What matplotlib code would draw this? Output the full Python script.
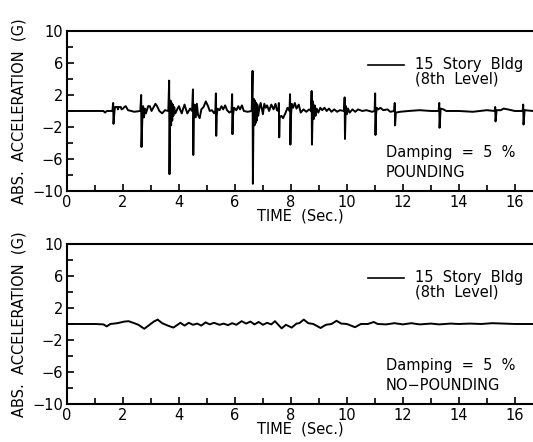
import matplotlib
matplotlib.use("Agg")
import matplotlib.pyplot as plt
from matplotlib.ticker import MultipleLocator, FixedLocator
import numpy as np

plt.rcParams['font.family'] = ['DejaVu Sans']

# ---- data ----
# pounding impacts: time, positive peak, negative peak
spike_t = [1.65, 2.65, 3.65, 4.50, 5.32, 5.90, 6.63, 7.57, 7.97, 8.74, 9.92, 11.01, 11.71, 13.30, 15.30, 16.30]
spike_up = [1.0, 2.0, 3.8, 2.7, 2.2, 2.1, 5.0, 1.0, 2.1, 2.5, 1.7, 2.2, 1.0, 1.0, 0.5, 0.8]
spike_dn = [-1.6, -4.5, -7.9, -5.5, -3.1, -2.9, -9.1, -3.3, -4.2, -4.2, -3.5, -3.0, -1.8, -2.1, -1.3, -1.7]

# pounding response between impacts
pound_t = [0.0, 1.0, 1.30, 1.36, 1.42, 1.62,
           1.70, 1.72, 1.80, 1.82, 1.85, 1.92, 1.95, 2.00, 2.05, 2.10, 2.18, 2.30, 2.40, 2.62,
           2.69, 2.72, 2.75, 2.78, 2.82, 2.90, 2.96, 3.02, 3.10, 3.16, 3.22, 3.30, 3.40, 3.50, 3.62,
           3.68, 3.70, 3.72, 3.74, 3.76, 3.78, 3.80, 3.83, 3.87, 3.95, 4.00, 4.05, 4.10, 4.15, 4.20, 4.25, 4.30, 4.40, 4.47,
           4.53, 4.56, 4.60, 4.64, 4.68, 4.74, 4.80, 4.88, 4.96, 5.04, 5.10, 5.18, 5.26, 5.30,
           5.35, 5.38, 5.45, 5.52, 5.58, 5.65, 5.72, 5.80, 5.88,
           5.93, 5.97, 6.05, 6.12, 6.18, 6.25, 6.32, 6.45, 6.60,
           6.66, 6.68, 6.70, 6.72, 6.74, 6.76, 6.78, 6.80, 6.83, 6.87, 6.92, 6.96, 7.00, 7.05, 7.10, 7.15, 7.22, 7.30, 7.38, 7.45, 7.50, 7.55,
           7.60, 7.66, 7.72, 7.80, 7.88, 7.95,
           8.00, 8.03, 8.08, 8.14, 8.20, 8.28, 8.35, 8.45, 8.55, 8.65, 8.72,
           8.77, 8.79, 8.82, 8.85, 8.88, 8.92, 8.98, 9.05, 9.12, 9.20, 9.28, 9.36, 9.45, 9.55, 9.65, 9.75, 9.90,
           9.95, 9.97, 10.00, 10.04, 10.10, 10.20, 10.30, 10.40, 10.55, 10.70, 10.90, 10.99,
           11.04, 11.07, 11.12, 11.20, 11.30, 11.45, 11.55, 11.69,
           11.75, 11.90, 12.20, 12.60, 13.00, 13.28,
           13.35, 13.45, 13.55, 14.00, 14.50, 15.00, 15.28,
           15.35, 15.50, 15.60, 15.75, 16.00, 16.28,
           16.35, 16.65]
pound_v = [0, 0, 0, -0.2, 0, 0,
           0.1, 0.5, 0.5, 0.2, 0.5, 0.5, 0.2, 0.3, 0.5, 0.6, 0.1, 0, -0.1, 0,
           -1.2, 0.6, -0.8, 0.3, -0.3, 0.6, 0.6, 0, 0.5, 0.9, 0.6, 0, -0.3, 0.1, 0,
           -1.5, 1.3, -1.8, 1.0, -1.2, 0.8, -0.6, 0.5, -0.3, 0.3, 0.6, 0.1, -0.3, 0.3, 0.8, 0.2, -0.3, 0.3, 0,
           -1.0, 0.8, -0.8, 0.9, -0.5, -0.9, 0.2, 0.5, 1.2, 0.6, 0, 0.1, -0.3, 0,
           -0.5, 0.3, 0.1, 0.6, 0.2, 0.7, 0.1, -0.2, 0,
           -0.6, 0.4, 0.1, 0.6, 0.2, 0.7, 0, -0.1, 0,
           -2.0, 1.5, -1.8, 1.3, -1.5, 1.0, -1.2, 0.8, -0.6, 0.3, 1.0, 0.3, -0.4, 0.9, 0.4, 0.7, 0, 0.8, 0.2, 0.9, 0.1, 0,
           -0.8, -0.6, -0.9, -0.3, 0.4, 0,
           -0.8, 0.9, 0.4, 1.0, 0.3, 0.8, -0.2, 0.2, -0.1, 0.2, 0,
           -1.3, 1.2, -1.0, 0.7, -0.6, 0.3, -0.2, 0.4, 0.1, 0.4, 0, 0.3, -0.1, 0.2, -0.1, 0.1, 0,
           -0.8, 0.6, -0.4, 0.3, -0.2, 0.2, -0.1, 0.2, 0, 0.1, -0.1, 0,
           -0.5, 0.4, 0.2, 0.4, 0.1, 0.2, -0.1, 0,
           -0.2, -0.1, 0, 0.1, 0, 0,
           0.3, 0.2, 0, 0, -0.1, 0.1, 0,
           0.1, 0.1, 0.3, 0.2, 0, 0,
           0.1, 0]

# no-pounding response
nopound_t = [0.0, 1.0, 1.30, 1.42, 1.55, 1.80, 2.05, 2.20, 2.40, 2.55, 2.76, 2.95, 3.10, 3.24, 3.40, 3.60,
             3.80, 3.95, 4.05, 4.20, 4.35, 4.50, 4.65, 4.80, 4.95, 5.10, 5.25, 5.45, 5.60, 5.75, 5.90,
             6.05, 6.24, 6.40, 6.55, 6.70, 6.85, 7.00, 7.15, 7.30, 7.43, 7.55, 7.67, 7.82, 8.03, 8.20,
             8.30, 8.46, 8.62, 8.80, 9.06, 9.25, 9.45, 9.63, 9.80, 10.00, 10.29, 10.50, 10.75, 10.96,
             11.10, 11.40, 11.70, 12.0, 12.3, 12.6, 13.0, 13.3, 13.7, 14.0, 14.4, 14.8, 15.2, 15.6, 16.0, 16.65]
nopound_v = [0, 0, -0.05, -0.3, 0, 0.1, 0.3, 0.35, 0.1, -0.1, -0.6, -0.1, 0.3, 0.55, 0.1, -0.2,
             -0.45, -0.1, 0.15, -0.2, 0.15, -0.1, 0.05, -0.2, 0.2, -0.05, 0.15, -0.1, 0.05, -0.15, 0.1,
             -0.1, 0.35, 0.05, 0.3, -0.05, 0.25, -0.1, 0.15, -0.05, 0.35, -0.1, -0.55, -0.1, -0.45, 0.05,
             0.1, 0.55, 0.1, 0, -0.5, -0.1, 0, 0.4, 0.05, 0, -0.4, 0, 0, 0.25,
             0, -0.05, 0.1, -0.05, 0.1, -0.05, 0.05, -0.05, 0.05, 0, 0.05, 0, 0.1, 0.05, 0, 0]

y_ticks = [10, 6, 2, -2, -6, -10]
x_ticks = [0, 2, 4, 6, 8, 10, 12, 14, 16]
legend_label = "15  Story  Bldg\n(8th  Level)"
damping_text = "Damping  =  5  %"
case_labels = ["POUNDING", "NO\u2212POUNDING"]

# assemble pounding trace (impact peaks merged with in-between response)
pts = list(zip(pound_t, pound_v))
for t, u, d in zip(spike_t, spike_up, spike_dn):
    pts.append((t, u))
    pts.append((t + 0.012, d))
pts.sort(key=lambda p: p[0])
trace_t = [p[0] for p in pts]
trace_v = [p[1] for p in pts]

fig = plt.figure(figsize=(5.33, 4.42), dpi=100)
ax1 = fig.add_axes([0.1257, 0.5679, 0.8743, 0.3620])
ax2 = fig.add_axes([0.1257, 0.0860, 0.8743, 0.3620])

FS = 10.5
for ax, (tt, vv), case in [(ax1, (trace_t, trace_v), case_labels[0]),
                            (ax2, (nopound_t, nopound_v), case_labels[1])]:
    ax.plot(tt, vv, color='black', lw=1.4)
    ax.set_xlim(0, 16.65)
    ax.set_ylim(-10, 10)
    ax.spines['right'].set_visible(False)
    for s in ['left', 'top', 'bottom']:
        ax.spines[s].set_linewidth(1.5)
    ax.xaxis.set_major_locator(FixedLocator(x_ticks))
    ax.xaxis.set_minor_locator(MultipleLocator(1))
    ax.yaxis.set_major_locator(FixedLocator(y_ticks))
    ax.yaxis.set_minor_locator(MultipleLocator(2))
    ax.tick_params(which='both', direction='in', width=1.2, labelsize=FS, pad=3)
    ax.tick_params(which='major', length=5)
    ax.tick_params(which='minor', length=4)
    ax.set_xticklabels([str(v) for v in x_ticks])
    ax.set_yticklabels([str(v).replace('-', '\u2212') for v in y_ticks])
    ax.set_xlabel("TIME  (Sec.)", fontsize=FS, labelpad=-1)
    ax.set_ylabel("ABS.  ACCELERATION  (G)", fontsize=FS, labelpad=4)
    # legend
    ax.plot([10.75, 12.05], [5.75, 5.75], color='black', lw=1.2)
    ax.text(12.45, 4.85, legend_label, fontsize=FS, va='center', ha='left', linespacing=0.95)
    ax.text(11.4, -5.2, damping_text, fontsize=FS, va='center', ha='left')
    ax.text(11.4, -7.7, case, fontsize=FS, va='center', ha='left')

fig.savefig("out.png", dpi=100)
